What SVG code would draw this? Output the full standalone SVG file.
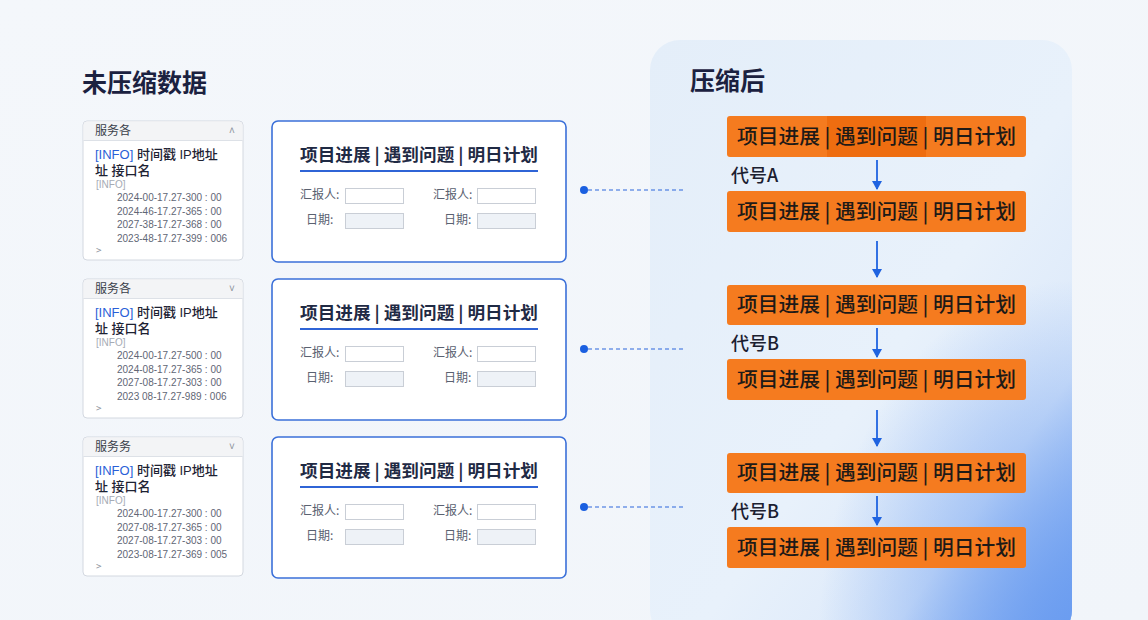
<svg xmlns="http://www.w3.org/2000/svg" width="1148" height="620" viewBox="0 0 1148 620">
<defs>
<linearGradient id="bg" x1="0" y1="0" x2="1" y2="1">
<stop offset="0" stop-color="#f4f7fb"/>
<stop offset="1" stop-color="#f1f5fa"/>
</linearGradient>
<linearGradient id="panel" x1="0" y1="0" x2="1" y2="1">
<stop offset="0" stop-color="#e4eef9"/>
<stop offset="0.55" stop-color="#e8f1fb"/>
<stop offset="0.78" stop-color="#dce9fa"/>
<stop offset="1" stop-color="#6e9ff0"/>
</linearGradient>
<radialGradient id="glow" cx="1" cy="1" r="0.6">
<stop offset="0" stop-color="#6a9cf0" stop-opacity="0.95"/>
<stop offset="1" stop-color="#6a9cf0" stop-opacity="0"/>
</radialGradient>
<marker id="arr" markerWidth="10" markerHeight="10" refX="8" refY="5" orient="auto" markerUnits="userSpaceOnUse" viewBox="0 0 10 10">
<path d="M0,0 L9,5 L0,10 Z" fill="#1f63e0"/>
</marker>
<style>
text{font-family:"Noto Sans CJK SC","Liberation Sans",sans-serif;}
.h1{font-size:25px;font-weight:700;fill:#1b2140;}
.lp{fill:#ffffff;stroke:#d3d8e0;stroke-width:1;}
.lph{fill:#f3f4f6;}
.lhd{font-size:12px;fill:#3a3f4a;}
.info{font-size:13px;fill:#1d2233;font-weight:500;font-family:"Liberation Sans","Noto Sans CJK SC",sans-serif;}
.blue{fill:#2a5fd8;}
.tag{font-size:10px;fill:#a5abb5;font-weight:400;font-family:"Liberation Sans",sans-serif;}
.dt{font-size:10px;fill:#5f6675;font-weight:400;font-family:"Liberation Sans","Noto Sans",sans-serif;}
.chev{font-size:10px;fill:#8a909a;}
.card{fill:#ffffff;stroke:#3b70d9;stroke-width:1.6;}
.ct{font-size:17px;font-weight:700;fill:#1f2a44;}
.ul{stroke:#2f64d6;stroke-width:2;}
.lbl{font-size:12px;fill:#5a6170;}
.in1{fill:#ffffff;stroke:#c9ced6;stroke-width:1;}
.in2{fill:#eef2f7;stroke:#c9ced6;stroke-width:1;}
.bar{fill:#f57b1f;}
.bt{font-size:20px;font-weight:500;fill:#1e1a17;}
.code{font-size:18px;font-weight:500;fill:#1b2030;}
.dash{stroke:#2c66dc;stroke-width:1.2;stroke-dasharray:4 3;fill:none;}
.dot{fill:#1a5fe0;}
.arrow{stroke:#1f63e0;stroke-width:1.8;fill:none;}
</style>
</defs>
<rect width="1148" height="620" fill="url(#bg)"/>
<g id="right-panel">
<rect x="650" y="40" width="422" height="600" rx="30" fill="url(#panel)"/>
<rect x="650" y="40" width="422" height="600" rx="30" fill="url(#glow)"/>
<text x="690" y="90" class="h1" font-size="24">压缩后</text>
</g>
<g id="title-left"><text x="82" y="92" class="h1">未压缩数据</text></g>

<g id="log1">
<rect x="83" y="121" width="160" height="139" rx="4" class="lp"/>
<path d="M83.5,125 a3.5,3.5 0 0 1 3.5,-3.5 h152 a3.5,3.5 0 0 1 3.5,3.5 v15 h-159 z" class="lph"/>
<line x1="83.5" y1="140.5" x2="242.5" y2="140.5" stroke="#dde1e7"/>
<text x="95" y="135" class="lhd">服务各</text>
<text x="229" y="134" class="chev">˄</text>
<text x="95" y="159" class="info"><tspan class="blue">[INFO]</tspan> 时间戳 IP地址</text>
<text x="95" y="175" class="info">址 接口名</text>
<text x="96" y="188" class="tag">[INFO]</text>
<text class="dt"><tspan x="117" y="201">2024-00-17.27-300 : 00</tspan><tspan x="117" y="215">2024-46-17.27-365 : 00</tspan><tspan x="117" y="228">2027-38-17.27-368 : 00</tspan><tspan x="117" y="242">2023-48-17.27-399 : 006</tspan></text>
<text x="96" y="254" class="chev">&gt;</text>
</g>
<g id="log2">
<rect x="83" y="279" width="160" height="139" rx="4" class="lp"/>
<path d="M83.5,283 a3.5,3.5 0 0 1 3.5,-3.5 h152 a3.5,3.5 0 0 1 3.5,3.5 v15 h-159 z" class="lph"/>
<line x1="83.5" y1="298.5" x2="242.5" y2="298.5" stroke="#dde1e7"/>
<text x="95" y="293" class="lhd">服务各</text>
<text x="229" y="292" class="chev">˅</text>
<text x="95" y="317" class="info"><tspan class="blue">[INFO]</tspan> 时间戳 IP地址</text>
<text x="95" y="333" class="info">址 接口名</text>
<text x="96" y="346" class="tag">[INFO]</text>
<text class="dt"><tspan x="117" y="359">2024-00-17.27-500 : 00</tspan><tspan x="117" y="373">2024-08-17.27-365 : 00</tspan><tspan x="117" y="386">2027-08-17.27-303 : 00</tspan><tspan x="117" y="400">2023 08-17.27-989 : 006</tspan></text>
<text x="96" y="412" class="chev">&gt;</text>
</g>
<g id="log3">
<rect x="83" y="437" width="160" height="139" rx="4" class="lp"/>
<path d="M83.5,441 a3.5,3.5 0 0 1 3.5,-3.5 h152 a3.5,3.5 0 0 1 3.5,3.5 v15 h-159 z" class="lph"/>
<line x1="83.5" y1="456.5" x2="242.5" y2="456.5" stroke="#dde1e7"/>
<text x="95" y="451" class="lhd">服务务</text>
<text x="229" y="450" class="chev">˅</text>
<text x="95" y="475" class="info"><tspan class="blue">[INFO]</tspan> 时间戳 IP地址</text>
<text x="95" y="491" class="info">址 接口名</text>
<text x="96" y="504" class="tag">[INFO]</text>
<text class="dt"><tspan x="117" y="517">2024-00-17.27-300 : 00</tspan><tspan x="117" y="531">2027-08-17.27-365 : 00</tspan><tspan x="117" y="544">2027-08-17.27-303 : 00</tspan><tspan x="117" y="558">2023-08-17.27-369 : 005</tspan></text>
<text x="96" y="570" class="chev">&gt;</text>
</g>

<g id="card1">
<rect x="272" y="121" width="294" height="141" rx="6" class="card"/>
<text x="300" y="161" class="ct" textLength="238" lengthAdjust="spacingAndGlyphs">项目进展 | 遇到问题 | 明日计划</text>
<line x1="300" y1="171" x2="538" y2="171" class="ul"/>
<text x="300" y="199" class="lbl">汇报人:</text>
<rect x="345.5" y="188.5" width="58" height="15" class="in1"/>
<text x="433" y="199" class="lbl">汇报人:</text>
<rect x="477.5" y="188.5" width="58" height="15" class="in1"/>
<text x="306" y="224" class="lbl">日期:</text>
<rect x="345.5" y="213.5" width="58" height="15" class="in2"/>
<text x="444" y="224" class="lbl">日期:</text>
<rect x="477.5" y="213.5" width="58" height="15" class="in2"/>
</g>
<g id="card2">
<rect x="272" y="279" width="294" height="141" rx="6" class="card"/>
<text x="300" y="319" class="ct" textLength="238" lengthAdjust="spacingAndGlyphs">项目进展 | 遇到问题 | 明日计划</text>
<line x1="300" y1="329" x2="538" y2="329" class="ul"/>
<text x="300" y="357" class="lbl">汇报人:</text>
<rect x="345.5" y="346.5" width="58" height="15" class="in1"/>
<text x="433" y="357" class="lbl">汇报人:</text>
<rect x="477.5" y="346.5" width="58" height="15" class="in1"/>
<text x="306" y="382" class="lbl">日期:</text>
<rect x="345.5" y="371.5" width="58" height="15" class="in2"/>
<text x="444" y="382" class="lbl">日期:</text>
<rect x="477.5" y="371.5" width="58" height="15" class="in2"/>
</g>
<g id="card3">
<rect x="272" y="437" width="294" height="141" rx="6" class="card"/>
<text x="300" y="477" class="ct" textLength="238" lengthAdjust="spacingAndGlyphs">项目进展 | 遇到问题 | 明日计划</text>
<line x1="300" y1="487" x2="538" y2="487" class="ul"/>
<text x="300" y="515" class="lbl">汇报人:</text>
<rect x="345.5" y="504.5" width="58" height="15" class="in1"/>
<text x="433" y="515" class="lbl">汇报人:</text>
<rect x="477.5" y="504.5" width="58" height="15" class="in1"/>
<text x="306" y="540" class="lbl">日期:</text>
<rect x="345.5" y="529.5" width="58" height="15" class="in2"/>
<text x="444" y="540" class="lbl">日期:</text>
<rect x="477.5" y="529.5" width="58" height="15" class="in2"/>
</g>

<g id="bar1">
<rect x="727" y="116" width="299" height="41" rx="3" class="bar"/>
<rect x="827" y="116" width="99" height="41" fill="#ee6d10"/>
<text x="737" y="144" class="bt" textLength="279" lengthAdjust="spacingAndGlyphs">项目进展 | 遇到问题 | 明日计划</text>
</g>
<g id="label-a"><text x="731" y="182" class="code">代号A</text></g>
<g id="bar2">
<rect x="727" y="191" width="299" height="41" rx="3" class="bar"/>
<text x="737" y="219" class="bt" textLength="279" lengthAdjust="spacingAndGlyphs">项目进展 | 遇到问题 | 明日计划</text>
</g>
<g id="bar3">
<rect x="727" y="285" width="299" height="40" rx="3" class="bar"/>
<text x="737" y="312" class="bt" textLength="279" lengthAdjust="spacingAndGlyphs">项目进展 | 遇到问题 | 明日计划</text>
</g>
<g id="label-b1"><text x="731" y="350" class="code">代号B</text></g>
<g id="bar4">
<rect x="727" y="359" width="299" height="41" rx="3" class="bar"/>
<text x="737" y="387" class="bt" textLength="279" lengthAdjust="spacingAndGlyphs">项目进展 | 遇到问题 | 明日计划</text>
</g>
<g id="bar5">
<rect x="727" y="453" width="299" height="40" rx="3" class="bar"/>
<text x="737" y="480" class="bt" textLength="279" lengthAdjust="spacingAndGlyphs">项目进展 | 遇到问题 | 明日计划</text>
</g>
<g id="label-b2"><text x="731" y="518" class="code">代号B</text></g>
<g id="bar6">
<rect x="727" y="527" width="299" height="41" rx="3" class="bar"/>
<text x="737" y="555" class="bt" textLength="279" lengthAdjust="spacingAndGlyphs">项目进展 | 遇到问题 | 明日计划</text>
</g>

<g id="connectors">
<circle cx="584" cy="190" r="4" class="dot"/>
<line x1="588" y1="190" x2="683" y2="190" class="dash"/>
<circle cx="584" cy="349" r="4" class="dot"/>
<line x1="588" y1="349" x2="683" y2="349" class="dash"/>
<circle cx="584" cy="507" r="4" class="dot"/>
<line x1="588" y1="507" x2="683" y2="507" class="dash"/>
<line x1="877" y1="160" x2="877" y2="189" class="arrow" marker-end="url(#arr)"/>
<line x1="877" y1="241" x2="877" y2="277" class="arrow" marker-end="url(#arr)"/>
<line x1="877" y1="328" x2="877" y2="357" class="arrow" marker-end="url(#arr)"/>
<line x1="877" y1="410" x2="877" y2="446" class="arrow" marker-end="url(#arr)"/>
<line x1="877" y1="496" x2="877" y2="525" class="arrow" marker-end="url(#arr)"/>
</g>
</svg>
